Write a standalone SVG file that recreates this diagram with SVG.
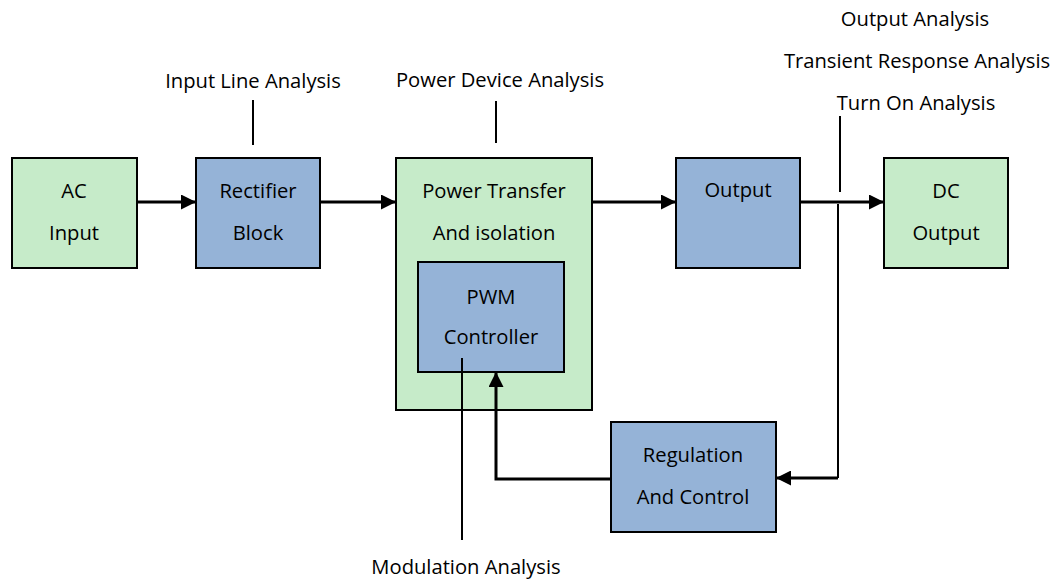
<svg xmlns="http://www.w3.org/2000/svg" width="1056" height="580" viewBox="0 0 1056 580">
<style>
.g{fill:#c6ebc9;stroke:#000;stroke-width:2}
.b{fill:#95b3d7;stroke:#000;stroke-width:2}
text{font-family:"Open Sans",Lato,"Liberation Sans",sans-serif;font-size:20.2px;fill:#000;text-anchor:middle}
.a{stroke:#000;stroke-width:3;fill:none}
.t{stroke:#000;stroke-width:2;fill:none}
</style>
<defs>
<marker id="ah" markerWidth="15" markerHeight="15" viewBox="0 0 15 15" refX="15" refY="7.5" orient="auto" markerUnits="userSpaceOnUse">
<path d="M0,0 L15,7.5 L0,15 Z" fill="#000"/>
</marker>
</defs>
<rect width="1056" height="580" fill="#fff"/>
<g id="ac-input"><rect class="g" x="12" y="158" width="125" height="110"/><text x="74" y="198">AC</text><text x="74" y="240">Input</text></g>
<g id="rectifier"><rect class="b" x="196" y="158" width="124" height="110"/><text x="258" y="198">Rectifier</text><text x="258" y="240">Block</text></g>
<g id="power-transfer"><rect class="g" x="396" y="158" width="196" height="252"/><text x="494" y="198">Power Transfer</text><text x="494" y="240">And isolation</text></g>
<g id="pwm"><rect class="b" x="418" y="262" width="146" height="110"/><text x="491" y="304">PWM</text><text x="491" y="344">Controller</text></g>
<g id="output"><rect class="b" x="676" y="158" width="124" height="110"/><text x="738" y="197">Output</text></g>
<g id="dc-output"><rect class="g" x="884" y="158" width="124" height="110"/><text x="946" y="198">DC</text><text x="946" y="240">Output</text></g>
<g id="regulation"><rect class="b" x="611" y="422" width="165" height="110"/><text x="693" y="462">Regulation</text><text x="693" y="504">And Control</text></g>
<g id="labels">
<text x="253" y="88">Input Line Analysis</text>
<text x="500" y="87">Power Device Analysis</text>
<text x="915" y="26">Output Analysis</text>
<text x="917" y="68">Transient Response Analysis</text>
<text x="916" y="110">Turn On Analysis</text>
<text x="466" y="574">Modulation Analysis</text>
</g>
<g id="connectors">
<line class="a" x1="137" y1="202" x2="196" y2="202" marker-end="url(#ah)"/>
<line class="a" x1="320" y1="202" x2="396" y2="202" marker-end="url(#ah)"/>
<line class="a" x1="592" y1="202" x2="676" y2="202" marker-end="url(#ah)"/>
<line class="a" x1="800" y1="202" x2="884" y2="202" marker-end="url(#ah)"/>
<polyline class="t" points="838,204 838,478"/>
<line class="a" x1="838" y1="478" x2="776" y2="478" marker-end="url(#ah)"/>
<polyline class="a" points="611,479 496,479 496,372" marker-end="url(#ah)"/>
<line class="t" x1="253" y1="100" x2="253" y2="145"/>
<line class="t" x1="496" y1="101" x2="496" y2="143"/>
<line class="t" x1="840" y1="116" x2="840" y2="192"/>
<line class="t" x1="462" y1="358" x2="462" y2="540"/>
</g>
</svg>
